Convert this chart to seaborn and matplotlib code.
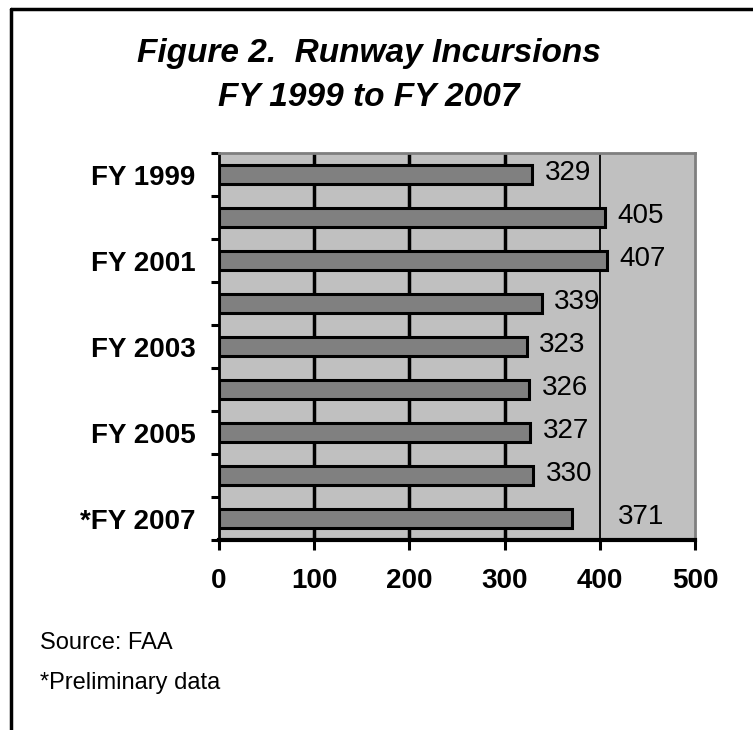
import matplotlib
matplotlib.use("Agg")
import matplotlib.pyplot as plt
from matplotlib.lines import Line2D
from matplotlib.ticker import FixedLocator
import seaborn as sns
import pandas as pd

# Runway incursions by fiscal year
years = ["FY 1999", "FY 2000", "FY 2001", "FY 2002", "FY 2003",
         "FY 2004", "FY 2005", "FY 2006", "*FY 2007"]
incursions = [329, 405, 407, 339, 323, 326, 327, 330, 371]
shown_labels = ["FY 1999", "FY 2001", "FY 2003", "FY 2005", "*FY 2007"]
x_ticks = [0, 100, 200, 300, 400, 500]

sns.set_theme(style="white")
plt.rcParams["font.family"] = ["Liberation Sans", "DejaVu Sans"]
plt.rcParams["text.color"] = "black"
plt.rcParams["xtick.color"] = "black"
plt.rcParams["ytick.color"] = "black"

df = pd.DataFrame({"year": years, "count": incursions})

fig = plt.figure(figsize=(7.53, 7.30), dpi=100)
ax = fig.add_axes([0.291, 0.260, 0.632, 0.530])
ax.set_facecolor("#c0c0c0")

# vertical gridlines behind the bars
for xv in x_ticks[1:-1]:
    ax.axvline(xv, color="black", lw=2.5 if xv < 400 else 1.3, zorder=0.5)

sns.barplot(data=df, x="count", y="year", orient="h", color="#808080",
            saturation=1, width=0.44, edgecolor="black", linewidth=2.2,
            ax=ax, zorder=2)

# value labels to the right of each bar
for i, v in enumerate(incursions):
    pad = 9 if years[i] != "*FY 2007" else 33
    ax.annotate(f"{v}", xy=(v, i), xytext=(pad, 1), textcoords="offset points",
                ha="left", va="center", fontsize=20, color="black", zorder=3)

ax.set_xlim(0, 500)
ax.set_ylim(len(years) - 0.5, -0.5)
ax.set_xticks(x_ticks)
ax.set_xticklabels([str(t) for t in x_ticks], fontsize=20, fontweight="bold")

ax.yaxis.set_major_locator(FixedLocator([years.index(y) for y in shown_labels]))
ax.set_yticklabels(shown_labels, fontsize=20, fontweight="bold")
ax.yaxis.set_minor_locator(FixedLocator([k - 0.5 for k in range(len(years) + 1)]))
ax.tick_params(axis="y", which="major", length=0, pad=17)
ax.tick_params(axis="y", which="minor", left=True, length=6, width=2.2,
               direction="out", color="black")
ax.tick_params(axis="x", which="major", bottom=True, length=7, width=2.2,
               direction="out", color="black", pad=13)
ax.set_xlabel("")
ax.set_ylabel("")

for side in ("top", "right"):
    ax.spines[side].set_color("#7f7f7f")
    ax.spines[side].set_linewidth(2.0)
ax.spines["left"].set_color("black")
ax.spines["left"].set_linewidth(2.0)
ax.spines["bottom"].set_color("black")
ax.spines["bottom"].set_linewidth(3.0)

# titles and notes
fig.text(0.49, 0.927, "Figure 2.  Runway Incursions", ha="center", va="center",
         fontsize=24, fontweight="bold", fontstyle="italic")
fig.text(0.49, 0.866, "FY 1999 to FY 2007", ha="center", va="center",
         fontsize=24, fontweight="bold", fontstyle="italic")
fig.text(0.053, 0.119, "Source: FAA", ha="left", va="center", fontsize=17)
fig.text(0.053, 0.064, "*Preliminary data", ha="left", va="center", fontsize=17)

# frame lines along the left and top edges
fig.add_artist(Line2D([0.0146, 0.0146], [0.0, 0.988], transform=fig.transFigure,
                      color="black", lw=2.5))
fig.add_artist(Line2D([0.0146, 1.0], [0.988, 0.988], transform=fig.transFigure,
                      color="black", lw=2.5))

fig.savefig("out.png", dpi=100)
